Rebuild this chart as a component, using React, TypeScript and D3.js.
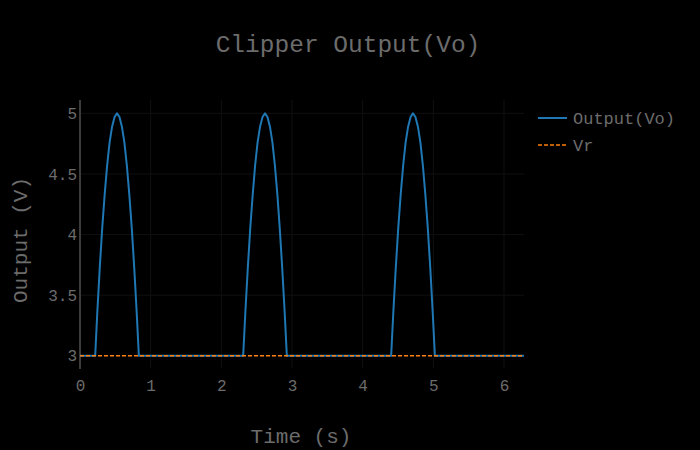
import { useEffect, useRef } from 'react'
import { axisBottom, axisLeft, line, scaleLinear, select } from 'd3'

// sample times (s); flat clipped stretches only need their ends
const times = [
  0,
  0.215, 0.244, 0.279, 0.314, 0.349, 0.384, 0.419, 0.454, 0.489, 0.524,
  0.559, 0.593, 0.628, 0.663, 0.698, 0.733, 0.768, 0.803, 0.833,
  2.309, 2.339, 2.374, 2.409, 2.444, 2.478, 2.513, 2.548, 2.583, 2.618,
  2.653, 2.688, 2.723, 2.758, 2.793, 2.827, 2.862, 2.897, 2.927,
  4.403, 4.433, 4.468, 4.503, 4.538, 4.573, 4.608, 4.643, 4.678, 4.712,
  4.747, 4.782, 4.817, 4.852, 4.887, 4.922, 4.957, 4.992, 5.022,
  6.283,
]

// clipper output Vo (V)
const output = [
  3,
  3, 3.35, 3.72, 4.05, 4.33, 4.57, 4.76, 4.89, 4.97, 5,
  4.97, 4.89, 4.76, 4.57, 4.33, 4.05, 3.72, 3.35, 3,
  3, 3.35, 3.72, 4.05, 4.33, 4.57, 4.76, 4.89, 4.97, 5,
  4.97, 4.89, 4.76, 4.57, 4.33, 4.05, 3.72, 3.35, 3,
  3, 3.35, 3.72, 4.05, 4.33, 4.57, 4.76, 4.89, 4.97, 5,
  4.97, 4.89, 4.76, 4.57, 4.33, 4.05, 3.72, 3.35, 3,
  3,
]

const vrLevel = 3
const xTicks = [0, 1, 2, 3, 4, 5, 6]
const yTicks = [3, 3.5, 4, 4.5, 5]
const legendNames = ['Output(Vo)', 'Vr']

const W = 700
const H = 450
const plot = { left: 80, right: 524, top: 100, bottom: 368 }
const font = '"Liberation Mono", "Courier New", monospace'
const textColor = '#6c6c6c'
const blue = '#1f77b4'
const orange = '#ff7f0e'

const App = () => {
  const ref = useRef<SVGSVGElement | null>(null)

  useEffect(() => {
    const svg = select(ref.current)
    svg.selectAll('*').remove()

    const x = scaleLinear().domain([0, times[times.length - 1]]).range([plot.left, plot.right])
    const y = scaleLinear().domain([2.9, 5.11]).range([plot.bottom, plot.top])

    svg.append('rect').attr('width', W).attr('height', H).attr('fill', '#000')

    // grid
    const grid = svg.append('g').attr('stroke', '#101010').attr('stroke-width', 1)
    xTicks.slice(1).forEach(t => {
      grid.append('line').attr('x1', x(t)).attr('x2', x(t)).attr('y1', plot.top).attr('y2', plot.bottom)
    })
    yTicks.forEach(t => {
      grid.append('line').attr('x1', plot.left).attr('x2', plot.right).attr('y1', y(t)).attr('y2', y(t))
    })

    // axes
    const xAxis = svg.append('g')
      .attr('transform', `translate(0, ${plot.bottom})`)
      .call(axisBottom(x).tickValues(xTicks).tickFormat(d => String(d)).tickSize(0).tickPadding(12))
    xAxis.select('.domain').remove()

    const yAxis = svg.append('g')
      .attr('transform', `translate(${plot.left}, 0)`)
      .call(axisLeft(y).tickValues(yTicks).tickFormat(d => String(d)).tickSize(0).tickPadding(3))
    yAxis.select('.domain').remove()

    svg.selectAll('.tick text')
      .attr('fill', textColor)
      .attr('font-family', font)
      .attr('font-size', 16)

    svg.append('line')
      .attr('x1', plot.left).attr('x2', plot.left)
      .attr('y1', plot.top).attr('y2', plot.bottom + 1)
      .attr('stroke', '#3c3c3c').attr('stroke-width', 2)

    // series
    const pts = times.map((t, i) => [t, output[i]] as [number, number])
    const path = line<[number, number]>().x(d => x(d[0])).y(d => y(d[1]))
    svg.append('path')
      .attr('d', path(pts))
      .attr('fill', 'none')
      .attr('stroke', blue)
      .attr('stroke-width', 2)
      .attr('stroke-linejoin', 'round')

    svg.append('path')
      .attr('d', path([[times[0], vrLevel], [times[times.length - 1], vrLevel]]))
      .attr('fill', 'none')
      .attr('stroke', orange)
      .attr('stroke-width', 1.5)
      .attr('stroke-dasharray', '4,2')

    // titles
    svg.append('text')
      .attr('x', 348).attr('y', 52)
      .attr('text-anchor', 'middle')
      .attr('font-family', font).attr('font-size', 24.5)
      .attr('fill', textColor)
      .text('Clipper Output(Vo)')

    svg.append('text')
      .attr('x', 301).attr('y', 443)
      .attr('text-anchor', 'middle')
      .attr('font-family', font).attr('font-size', 21)
      .attr('fill', textColor)
      .text('Time (s)')

    svg.append('text')
      .attr('transform', `translate(27, 240) rotate(-90)`)
      .attr('text-anchor', 'middle')
      .attr('font-family', font).attr('font-size', 21)
      .attr('fill', textColor)
      .text('Output (V)')

    // legend
    const legend = svg.append('g')
    legendNames.forEach((name, i) => {
      const ly = 118 + i * 27
      legend.append('line')
        .attr('x1', 538).attr('x2', 567).attr('y1', ly).attr('y2', ly)
        .attr('stroke', i === 0 ? blue : orange)
        .attr('stroke-width', i === 0 ? 2 : 1.5)
        .attr('stroke-dasharray', i === 0 ? null : '4,2')
      legend.append('text')
        .attr('x', 573).attr('y', ly + 6)
        .attr('font-family', font).attr('font-size', 17)
        .attr('fill', textColor)
        .text(name)
    })
  }, [])

  return (
    <div style={{ position: 'absolute', top: 0, left: 0 }}>
      <svg ref={ref} width={W} height={H} style={{ display: 'block' }} />
    </div>
  )
}

export default App
